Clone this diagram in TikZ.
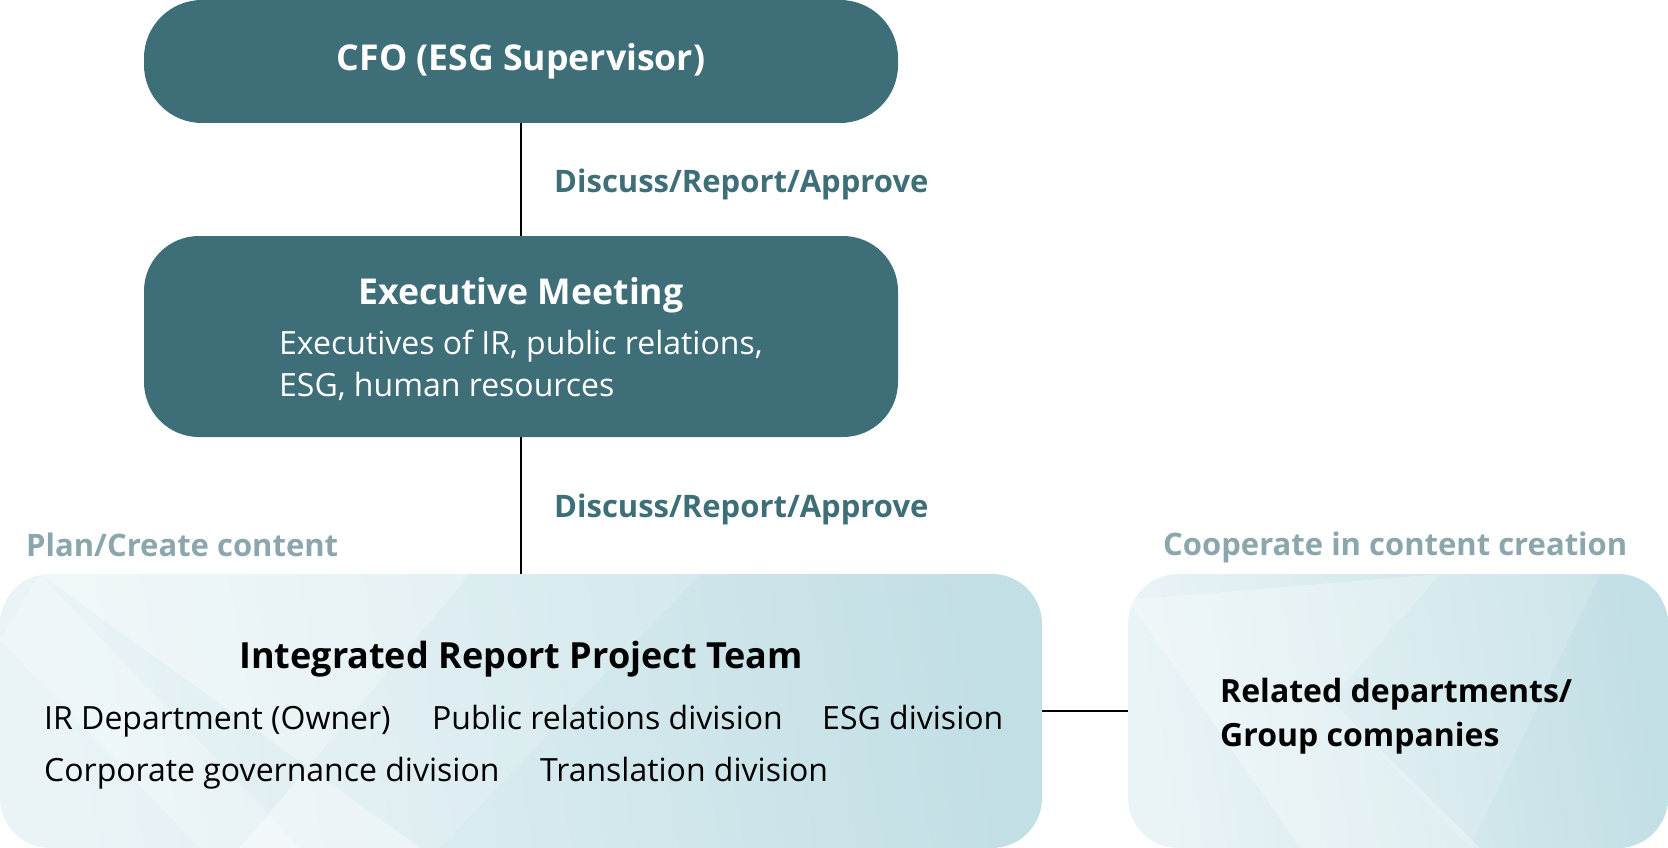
\documentclass[tikz,border=0pt]{standalone}
\usepackage{fontspec}
\setmainfont{Open Sans}
\definecolor{teal1}{HTML}{3E6E78}
\definecolor{lbl}{HTML}{8BA6AD}
\definecolor{lightA}{HTML}{EAF4F7}
\definecolor{lightB}{HTML}{C2DFE5}
\tikzset{
  darkbox/.style={draw=none, fill=teal1, rounded corners=58pt, inner sep=0pt},
  lightbox/.style={draw=none, rounded corners=50pt, inner sep=0pt,
     left color=lightA, right color=lightB, shading angle=100},
  conn/.style={draw=black, line width=1.6pt},
  wtitle/.style={text=white, font=\fontsize{35.6}{40}\selectfont\bfseries, inner sep=0pt},
  wsub/.style={text=white, font=\fontsize{32}{34}\selectfont, inner sep=0pt},
  flowlbl/.style={text=teal1, font=\fontsize{31}{34}\selectfont\bfseries, inner sep=0pt},
  sidelbl/.style={text=lbl, font=\fontsize{31}{34}\selectfont\bfseries, inner sep=0pt},
  btitle/.style={text=black, font=\fontsize{32}{38}\selectfont\bfseries, inner sep=0pt},
  bsub/.style={text=black, font=\fontsize{32}{34}\selectfont, inner sep=0pt},
}
\begin{document}
\begin{tikzpicture}[x=1pt,y=-1pt]
\useasboundingbox (0,0) rectangle (1668,848);
% boxes
\node[darkbox, minimum width=754pt, minimum height=123pt] (cfo) at (521,61.5) {};
\node[darkbox, minimum width=754pt, minimum height=201pt, rounded corners=55pt] (exec) at (521,336.5) {};
\node[lightbox, minimum width=1042pt, minimum height=274pt] (team) at (521,711) {};
\node[lightbox, minimum width=540pt, minimum height=274pt] (rel) at (1398,711) {};
% streaks
\begin{scope}
  \clip[rounded corners=50pt] (0,574) rectangle (1042,848);
  \fill[white, opacity=0.35] (40,574) -- (470,574) -- (240,848) -- (420,848) -- cycle;
  \fill[white, opacity=0.25] (0,640) -- (40,574) -- (300,848) -- (200,848) -- cycle;
  \fill[white, opacity=0.15] (470,574) -- (700,574) -- (440,848) -- (240,848) -- cycle;
\end{scope}
\begin{scope}
  \clip[rounded corners=50pt] (1128,574) rectangle (1668,848);
  \fill[white, opacity=0.30] (1128,600) -- (1440,574) -- (1330,700) -- (1480,848) -- (1300,848) -- cycle;
  \fill[white, opacity=0.15] (1440,574) -- (1600,574) -- (1470,848) -- (1330,700) -- cycle;
\end{scope}
% connectors
\draw[conn] (cfo.south) -- (exec.north);
\draw[conn] (exec.south) -- (team.north);
\draw[conn] (team.east) -- (rel.west);
% texts
\node[wtitle, anchor=base] (tcfo) at (521,71) {CFO (ESG Supervisor)};
\node[wtitle, anchor=base] (texec) at (521,304) {Executive Meeting};
\node[wsub, anchor=base west] (s1) at (279,354) {Executives of IR, public relations,};
\node[wsub, anchor=base west] (s2) at (279,396) {ESG, human resources};
\node[flowlbl, anchor=base west] (d1) at (554,192) {Discuss/Report/Approve};
\node[flowlbl, anchor=base west] (d2) at (554,517) {Discuss/Report/Approve};
\node[sidelbl, anchor=base west] (plan) at (26,556) {Plan/Create content};
\node[sidelbl, anchor=base west] (coop) at (1163,555) {Cooperate in content creation};
\node[btitle, font=\fontsize{36}{40}\selectfont\bfseries, anchor=base] (tteam) at (521,668) {Integrated Report Project Team};
\node[bsub, anchor=base west] (m1) at (44,729) {IR Department (Owner)};
\node[bsub, anchor=base west] (m2) at (432,729) {Public relations division};
\node[bsub, anchor=base west] (m3) at (822,729) {ESG division};
\node[bsub, anchor=base west] (m4) at (44,781) {Corporate governance division};
\node[bsub, anchor=base west] (m5) at (540,781) {Translation division};
\node[btitle, anchor=base west] (r1) at (1220,702) {Related departments/};
\node[btitle, anchor=base west] (r2) at (1220,746) {Group companies};
\end{tikzpicture}
\end{document}
